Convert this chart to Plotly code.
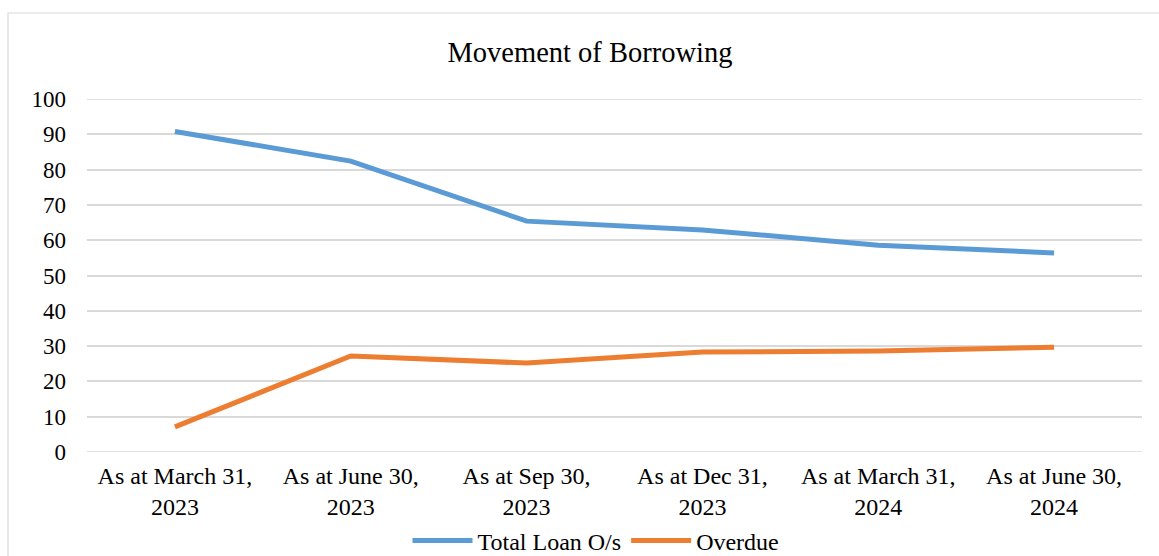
import plotly.graph_objects as go

categories = ["As at March 31,<br>2023", "As at June 30,<br>2023", "As at Sep 30,<br>2023",
              "As at Dec 31,<br>2023", "As at March 31,<br>2024", "As at June 30,<br>2024"]
total_loan = [90.8, 82.4, 65.4, 62.9, 58.6, 56.4]
overdue = [7.1, 27.2, 25.2, 28.3, 28.6, 29.7]
y_ticks = [0, 10, 20, 30, 40, 50, 60, 70, 80, 90, 100]

FONT = "Times New Roman"
W, H = 1159, 556
L, R, T, B = 87, 17, 99, 104
pw, ph = W - L - R, H - T - B

fig = go.Figure()
fig.add_trace(go.Scatter(x=list(range(len(categories))), y=total_loan, mode="lines",
                         name="Total Loan O/s", line=dict(color="#5B9BD5", width=5)))
fig.add_trace(go.Scatter(x=list(range(len(categories))), y=overdue, mode="lines",
                         name="Overdue", line=dict(color="#ED7D31", width=5)))

xf = dict(family=FONT, size=24, color="black")
yf = dict(family=FONT, size=23, color="black")
fig.update_layout(
    width=W, height=H,
    margin=dict(l=L, r=R, t=T, b=B, autoexpand=False),
    paper_bgcolor="white", plot_bgcolor="white",
    font=xf,
    title=dict(text="Movement of Borrowing", font=dict(family=FONT, size=28.5, color="black"),
               x=590 / W, xref="container", xanchor="center",
               y=1 - 52 / H, yref="container", yanchor="middle"),
    legend=dict(orientation="h", x=596 / W, xref="container", xanchor="center",
                y=1 - 541 / H, yref="container", yanchor="middle",
                font=xf, itemwidth=60, tracegroupgap=0, bgcolor="rgba(0,0,0,0)"),
    showlegend=True,
)
fig.update_xaxes(tickmode="array", tickvals=list(range(len(categories))), ticktext=categories,
                 range=[-0.5, len(categories) - 0.5], showgrid=False, zeroline=False,
                 showline=False, ticks="", ticklabelstandoff=7, fixedrange=True,
                 tickfont=xf, automargin=False)
fig.update_yaxes(tickmode="array", tickvals=y_ticks, range=[0, 100], showgrid=True,
                 gridcolor="#d9d9d9", gridwidth=1.5, zeroline=False, showline=False,
                 ticks="", ticklabelstandoff=20, fixedrange=True, tickfont=yf,
                 automargin=False)

for yv in (y_ticks[0], y_ticks[-1]):
    fig.add_shape(type="line", xref="paper", yref="y", x0=0, x1=1, y0=yv, y1=yv,
                  line=dict(color="#d9d9d9", width=1.5), layer="below")
fig.add_shape(type="rect", xref="paper", yref="paper",
              x0=(8 - L) / pw, x1=(W + 2 - L) / pw,
              y0=-(570 - (H - B)) / ph,
              y1=((H - B) - 13) / ph,
              line=dict(color="#d9d9d9", width=1.2), fillcolor="rgba(0,0,0,0)")

fig.write_html("out.html")
